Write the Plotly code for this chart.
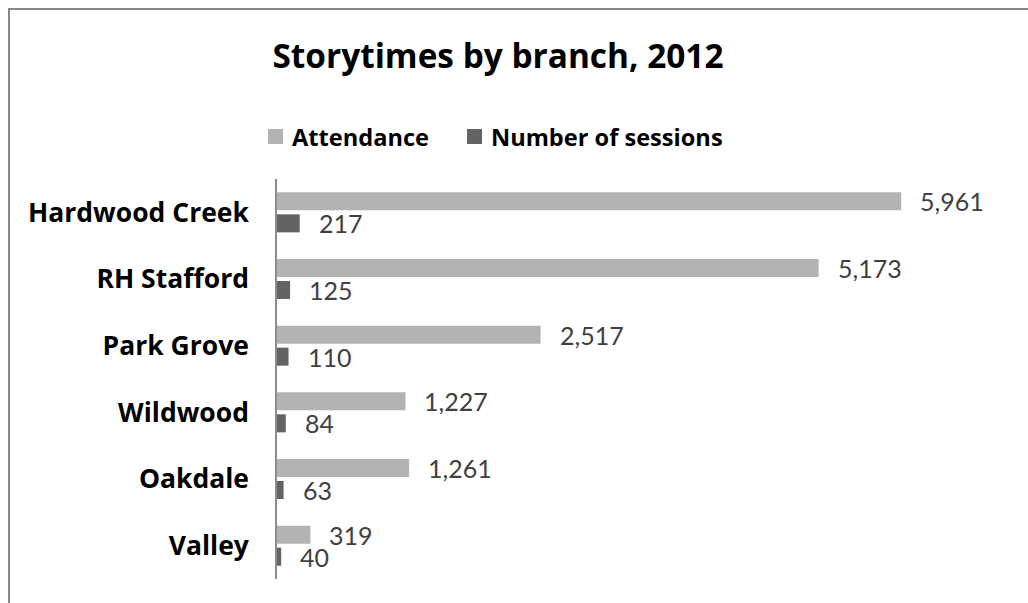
import plotly.graph_objects as go

# Storytime data per branch, 2012
branches = ["Hardwood Creek", "RH Stafford", "Park Grove", "Wildwood", "Oakdale", "Valley"]
attendance = [5961, 5173, 2517, 1227, 1261, 319]
sessions = [217, 125, 110, 84, 63, 40]
series_names = ["Attendance", "Number of sessions"]

W, H = 1028, 603
L, R, T, B = 277, 18, 179, 24
PW, PH = W - L - R, H - T - B

LIGHT = "#b3b3b3"
DARK = "#636363"
FONT = "Open Sans"
NUM_FONT = "Lato"


def px_x(px):
    """Pixel column -> paper x coordinate."""
    return (px - L) / PW


def px_y(py):
    """Pixel row -> paper y coordinate."""
    return (H - B - py) / PH


fig = go.Figure()
fig.add_bar(y=branches, x=attendance, orientation="h", name=series_names[0],
            marker=dict(color=LIGHT, line=dict(width=0)), showlegend=False)
fig.add_bar(y=branches, x=sessions, orientation="h", name=series_names[1],
            marker=dict(color=DARK, line=dict(width=0)), showlegend=False)

# value labels to the right of each bar
for values, shift in ((attendance, 11), (sessions, -11)):
    for b, v in zip(branches, values):
        fig.add_annotation(x=v, y=b, text=f"{v:,}", xanchor="left", yanchor="middle",
                           xshift=17, yshift=shift, showarrow=False,
                           font=dict(family=NUM_FONT, size=25, color="#404040"))

# legend: swatch + label
legend_items = [(268, LIGHT, series_names[0]), (467, DARK, series_names[1])]
for x0, color, label in legend_items:
    fig.add_shape(type="rect", xref="paper", yref="paper",
                  x0=px_x(x0), x1=px_x(x0 + 15), y0=px_y(144), y1=px_y(129),
                  fillcolor=color, line=dict(width=0))
    fig.add_annotation(xref="paper", yref="paper", x=px_x(x0 + 21.5), y=px_y(136.5),
                       xanchor="left", yanchor="middle", text=label, showarrow=False,
                       font=dict(family=FONT, size=23.6, color="#000000", weight=700))

# outer chart frame
fig.add_shape(type="rect", xref="paper", yref="paper",
              x0=px_x(9), x1=px_x(1060), y0=px_y(640), y1=px_y(9),
              line=dict(color="#878787", width=2), fillcolor="rgba(0,0,0,0)")

fig.update_layout(
    width=W, height=H,
    margin=dict(l=L, r=R, t=T, b=B),
    paper_bgcolor="white", plot_bgcolor="white",
    barmode="group", bargap=0.34, bargroupgap=0.18,
    title=dict(text="Storytimes by branch, 2012", xref="container", yref="container",
               x=498 / W, y=1 - 56 / H, xanchor="center", yanchor="middle",
               font=dict(family=FONT, size=33.4, color="#000000", weight=700)),
    xaxis=dict(range=[0, 7000], visible=False, showgrid=False, zeroline=False),
    yaxis=dict(type="category", autorange="reversed", showline=True,
               linecolor="#8c8c8c", linewidth=1.5, ticks="", showgrid=False,
               ticklabelstandoff=21,
               tickfont=dict(family=FONT, size=26.5, color="#000000", weight=700)),
)

fig.write_html("out.html")
